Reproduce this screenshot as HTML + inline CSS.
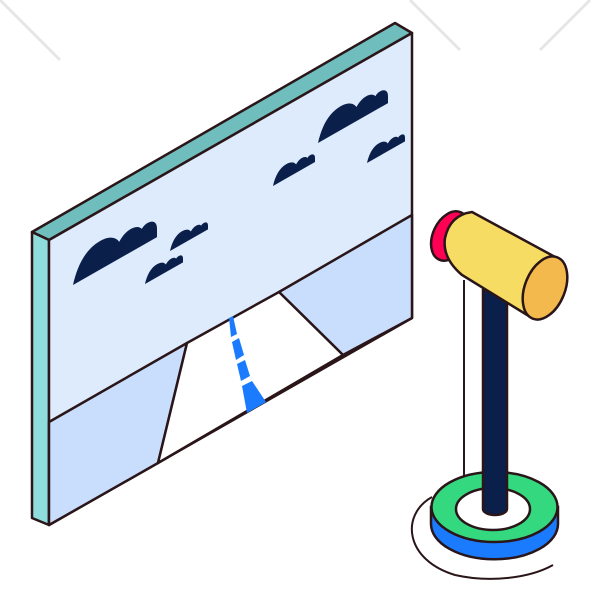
<!DOCTYPE html>
<html><head><meta charset="utf-8"><style>html,body{margin:0;padding:0;background:#fff}svg{display:block}</style></head>
<body>
<svg width="600" height="600" viewBox="0 0 600 600" xmlns="http://www.w3.org/2000/svg">
<defs>
<path id="cl" d="M0,0 C0.05,-0.2 0.15,-0.34 0.32,-0.34 C0.45,-0.34 0.52,-0.26 0.55,-0.2 C0.62,-0.3 0.76,-0.3 0.82,-0.2 C0.86,-0.26 1,-0.24 1,-0.1 L1,0 Z"/>
</defs>
<g stroke="#e6e6e6" stroke-width="3" fill="none">
<line x1="0" y1="0" x2="60" y2="60"/><line x1="410" y1="0" x2="460" y2="50"/><line x1="590" y1="0" x2="540" y2="50"/>
</g>
<!-- screen -->
<g stroke="#2a1619" stroke-width="2.5" stroke-linejoin="round">
<polygon points="32,232 395,23 412,33 49,240" fill="#6fbdbd"/>
<polygon points="32,232 49,240 49,525 32,518" fill="#8fdcdc"/>
<polygon points="49,240 412,33 412,318 49,525" fill="#deebfc"/>
<polygon points="49,422 187,343 158,463 49,525" fill="#c9ddfd"/>
<polygon points="279,292 412,215 412,318 343,355" fill="#c9ddfd"/>
<polygon points="187,343 279,292 343,355 158,463" fill="#fff"/>
</g>
<g fill="#1a7bff">
<polygon points="229,318 233,316 237,334 231,337"/>
<polygon points="232,342 239,338 244,355 236,360"/>
<polygon points="237,364 245,360 250,376 241,381"/>
<polygon points="242,386 252,381 266,402 247,413"/>
</g>
<g fill="#0b1f4b">
<use href="#cl" transform="translate(73,285) skewY(-29.7) scale(84)"/>
<use href="#cl" transform="translate(170,251) skewY(-29.7) scale(38)"/>
<use href="#cl" transform="translate(145,284) skewY(-29.7) scale(38)"/>
<use href="#cl" transform="translate(273,186) skewY(-29.7) scale(42)"/>
<use href="#cl" transform="translate(318,143) skewY(-29.7) scale(70)"/>
<use href="#cl" transform="translate(367,163) skewY(-29.7) scale(38)"/>
</g>
<!-- stand -->
<g stroke="#2a1619" stroke-width="2.5">
<path d="M432,497 C400,515 405,560 455,575 C490,583 530,578 553,565" fill="none" stroke-width="2"/>
<line x1="464" y1="280" x2="464" y2="480" stroke-width="2"/>
<path d="M431,507 L431,524 A63,35 0 0 0 558,524 L558,507 Z" fill="#1a7bff"/>
<ellipse cx="494.5" cy="507" rx="63" ry="35" fill="#34d97f"/>
<ellipse cx="493" cy="509" rx="37" ry="21" fill="#fff"/>
<path d="M483,290 L483,509 A12,6 0 0 0 507,509 L507,290 Z" fill="#0b1f4b"/>
<ellipse cx="450" cy="236" rx="17" ry="26" transform="rotate(25 450 236)" fill="#ff0055"/>
<path d="M472,212 L557,258 L532,318 L462,275 Q442,258 445,238 Q450,215 472,212 Z" fill="#f7dc63"/>
<ellipse cx="545" cy="288" rx="20" ry="33" transform="rotate(22 545 288)" fill="#f3b94c"/>
</g>
</svg>
</body></html>
